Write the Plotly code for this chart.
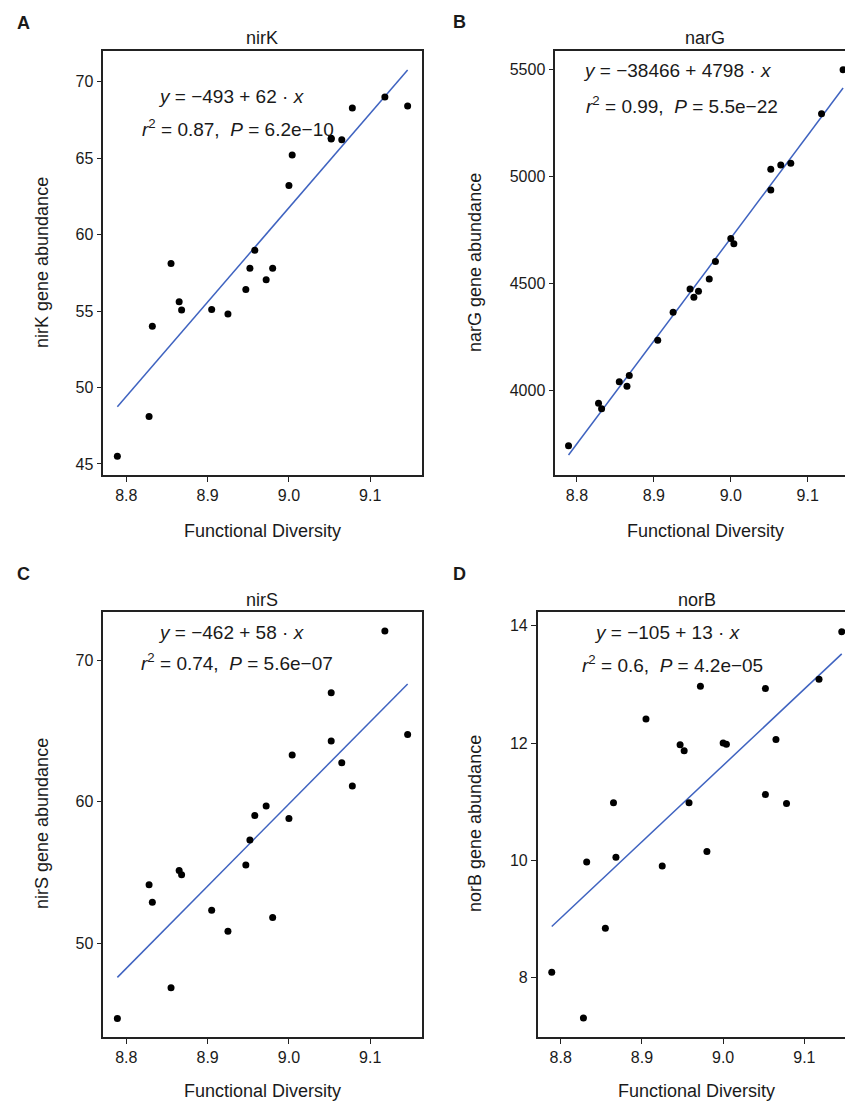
import plotly.graph_objects as go

# ---- data ----
fd = [8.789, 8.828, 8.832, 8.855, 8.865, 8.868, 8.905, 8.925, 8.947, 8.952, 8.958,
      8.972, 8.980, 9.000, 9.004, 9.052, 9.052, 9.065, 9.078, 9.118, 9.146]

nirK = [45.5, 48.1, 54.0, 58.1, 55.6, 55.07, 55.1, 54.8, 56.4, 57.8, 58.97,
        57.05, 57.8, 63.2, 65.2, 66.3, 66.25, 66.2, 68.27, 69.0, 68.4]
narG = [3742, 3941, 3915, 4041, 4020, 4070, 4235, 4366, 4474, 4436, 4464,
        4521, 4602, 4710, 4685, 5033, 4936, 5053, 5061, 5292, 5498]
nirS = [44.7, 54.14, 52.9, 46.87, 55.15, 54.84, 52.33, 50.85, 55.53, 57.29, 59.03,
        59.69, 51.83, 58.82, 63.29, 67.69, 64.28, 62.75, 61.1, 72.05, 64.75]
norB = [8.09, 7.31, 9.97, 8.84, 10.98, 10.05, 12.41, 9.90, 11.97, 11.87, 10.98,
        12.97, 10.15, 12.0, 11.98, 12.93, 11.12, 12.06, 10.97, 13.09, 13.9]

fit_x = [8.789, 9.146]
fit_nirK = [48.74, 70.76]
fit_narG = [3699, 5412]
fit_nirS = [47.6, 68.31]
fit_norB = [8.87, 13.52]

genes = ["nirK", "narG", "nirS", "norB"]
letters = ["A", "B", "C", "D"]
eq1 = ["<i>y</i> = −493 + 62 · <i>x</i>",
       "<i>y</i> = −38466 + 4798 · <i>x</i>",
       "<i>y</i> = −462 + 58 · <i>x</i>",
       "<i>y</i> = −105 + 13 · <i>x</i>"]
eq2 = ["<i>r</i><sup>2</sup> = 0.87,\u00a0\u00a0<i>P</i> = 6.2e−10",
       "<i>r</i><sup>2</sup> = 0.99,\u00a0\u00a0<i>P</i> = 5.5e−22",
       "<i>r</i><sup>2</sup> = 0.74,\u00a0\u00a0<i>P</i> = 5.6e−07",
       "<i>r</i><sup>2</sup> = 0.6,\u00a0\u00a0<i>P</i> = 4.2e−05"]
x_ticks = [8.8, 8.9, 9.0, 9.1]
y_ticks = [[45, 50, 55, 60, 65, 70], [4000, 4500, 5000, 5500], [50, 60, 70], [8, 10, 12, 14]]

# ---- layout geometry (pixels) ----
W, H = 845, 1101
FONT = "Liberation Sans, Arial, Helvetica, sans-serif"
INK = "#1a1a1a"
LINE_BLUE = "#3F63C0"

panels = [
    dict(px=(103.3, 421.7), py=(51, 475), xr=[8.7717, 9.1633], yr=[44.28, 72.0], full=True),
    dict(px=(555.3, 845), py=(51, 475), xr=[8.7718, 9.1485], yr=[3606, 5585], full=False),
    dict(px=(103.3, 421.7), py=(612.3, 1036.7), xr=[8.7717, 9.1633], yr=[43.41, 73.37], full=True),
    dict(px=(537.7, 845), py=(612.3, 1036.7), xr=[8.7717, 9.150], yr=[6.99, 14.23], full=False),
]
ys = [nirK, narG, nirS, norB]
fits = [fit_nirK, fit_narG, fit_nirS, fit_norB]

# label positions (px)
letter_pos = [(23, 23), (459, 22), (23, 574), (459, 574)]
title_pos = [(262, 38), (705, 38), (262, 600), (697, 600)]
eq1_pos = [(232, 97), (677, 70), (232, 632), (667, 632)]
eq2_pos = [(238, 128), (682, 105), (237, 662), (672, 664)]
xt_pos = [(262, 531), (705, 531), (262, 1091), (696, 1091)]
yt_pos = [(42, 263), (475, 263), (42, 824), (475, 824)]


def px2x(p):
    return p / W


def py2y(p):
    return 1 - p / H


fig = go.Figure()
layout = dict(width=W, height=H, margin=dict(l=0, r=0, t=0, b=0),
              paper_bgcolor="white", plot_bgcolor="white", showlegend=False,
              font=dict(family=FONT, color=INK))
annotations = []

for i, p in enumerate(panels):
    n = "" if i == 0 else str(i + 1)
    xa, ya = "x" + n, "y" + n
    fig.add_trace(go.Scatter(x=fit_x, y=fits[i], mode="lines",
                             line=dict(color=LINE_BLUE, width=1.5),
                             xaxis=xa, yaxis=ya, hoverinfo="skip"))
    fig.add_trace(go.Scatter(x=fd, y=ys[i], mode="markers",
                             marker=dict(color="black", size=7),
                             xaxis=xa, yaxis=ya))
    layout["xaxis" + n] = dict(
        domain=[px2x(p["px"][0]), min(1.0, px2x(p["px"][1]))],
        range=p["xr"], anchor=ya, showgrid=False, zeroline=False,
        showline=True, linecolor="#222", linewidth=1.6, mirror=True,
        ticks="outside", ticklen=5, tickwidth=1.2, tickcolor="#222",
        tickvals=x_ticks, ticktext=["%.1f" % v for v in x_ticks],
        tickfont=dict(size=16, family=FONT, color=INK))
    layout["yaxis" + n] = dict(
        domain=[py2y(p["py"][1]), py2y(p["py"][0])],
        range=p["yr"], anchor=xa, showgrid=False, zeroline=False,
        showline=True, linecolor="#222", linewidth=1.6, mirror=p["full"],
        ticks="outside", ticklen=5, tickwidth=1.2, tickcolor="#222",
        tickvals=y_ticks[i], ticktext=[str(v) for v in y_ticks[i]],
        tickfont=dict(size=16, family=FONT, color=INK))

    def ann(text, pos, size, **kw):
        d = dict(text=text, x=px2x(pos[0]), y=py2y(pos[1]), xref="paper", yref="paper",
                 xanchor="center", yanchor="middle", showarrow=False,
                 font=dict(size=size, family=FONT, color=INK))
        d.update(kw)
        annotations.append(d)

    ann("<b>" + letters[i] + "</b>", letter_pos[i], 18)
    ann(genes[i], title_pos[i], 18)
    ann(eq1[i], eq1_pos[i], 19)
    ann(eq2[i], eq2_pos[i], 19)
    ann("Functional Diversity", xt_pos[i], 18)
    ann(genes[i] + " gene abundance", yt_pos[i], 18, textangle=-90)

layout["annotations"] = annotations
fig.update_layout(**layout)
fig.write_html("out.html",
               config={"displayModeBar": False},
               post_script="document.body.style.margin='0';document.body.style.overflow='hidden';")
